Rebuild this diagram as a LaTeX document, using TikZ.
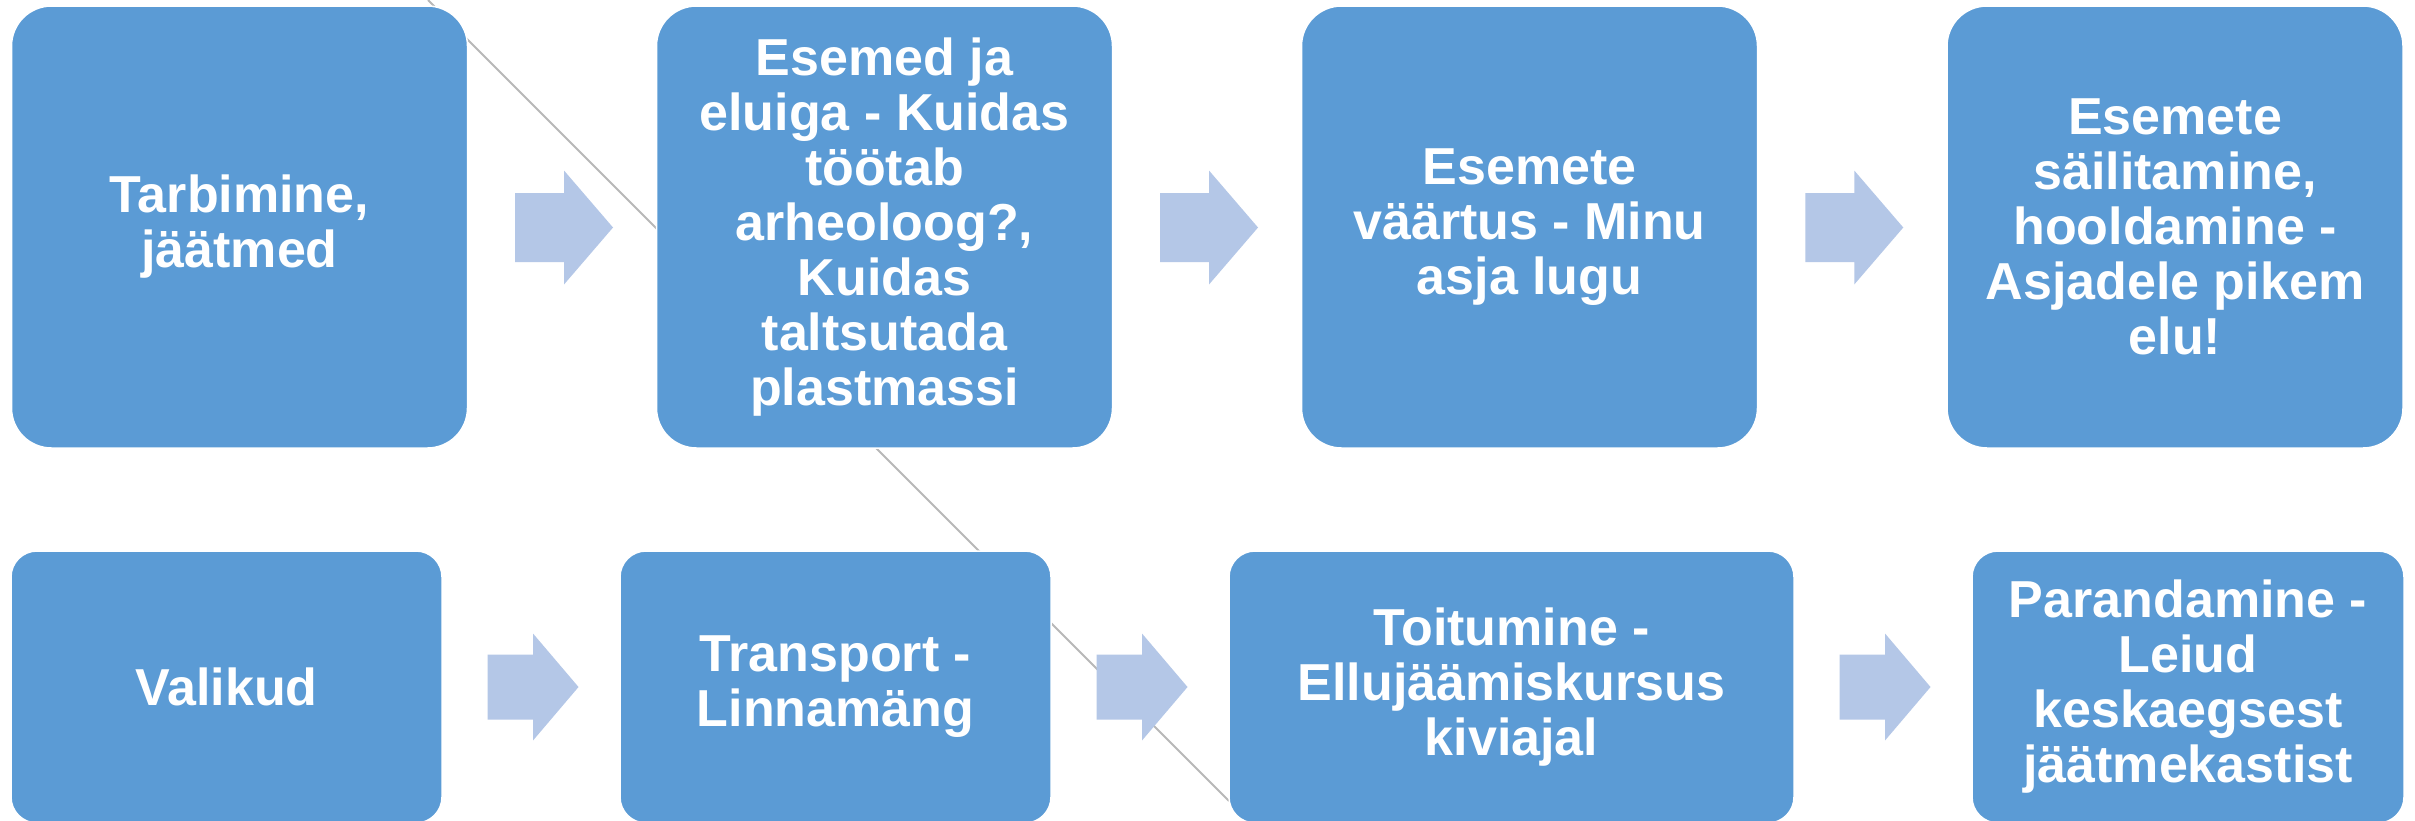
\documentclass[tikz,border=0pt]{standalone}
\usepackage{fontspec}
\setmainfont{Liberation Sans}
\usetikzlibrary{calc}
\definecolor{boxblue}{HTML}{5B9BD5}
\definecolor{arrowblue}{HTML}{B4C7E7}
\definecolor{linegrey}{HTML}{B8B8B8}
\tikzset{
  stepbox/.style={fill=boxblue, draw=white, line width=1.5pt, text=white,
    font=\bfseries\fontsize{52pt}{55pt}\selectfont, align=center,
    inner sep=4pt, outer sep=0pt},
  topbox/.style={stepbox, rounded corners=40pt, minimum width=456pt, minimum height=442pt},
  lowbox/.style={stepbox, rounded corners=26pt, minimum height=272pt},
  arrowfill/.style={fill=arrowblue},
  greyline/.style={draw=linegrey, line width=2pt},
}
\newcommand\flowarr[4]{\fill[arrowfill] ($(#1)+(-#2,-#3)$) -- ($(#1)+(0,-#3)$) -- ($(#1)+(0,-#4)$) -- ($(#1)+(#2,0)$) -- ($(#1)+(0,#4)$) -- ($(#1)+(0,#3)$) -- ($(#1)+(-#2,#3)$) -- cycle;}
\begin{document}
\begin{tikzpicture}[x=1pt,y=-1pt]
\clip (0,0) rectangle (2415,820);
\fill[white] (0,0) rectangle (2415,820);
% grey line behind everything
\coordinate (lineA) at (428,0);
\coordinate (lineB) at (1229,801);
\draw[greyline] (lineA) -- (lineB);
% top row
\node[topbox] (t1) at (239.5,227) {Tarbimine,\\jäätmed};
\node[topbox] (t2) at (884.5,227) {Esemed ja\\eluiga - Kuidas\\töötab\\arheoloog?,\\Kuidas\\taltsutada\\plastmassi};
\node[topbox] (t3) at (1529.5,227) {Esemete\\väärtus - Minu\\asja lugu};
\node[topbox] (t4) at (2175,227) {Esemete\\säilitamine,\\hooldamine -\\Asjadele pikem\\elu!};
% bottom row
\node[lowbox, minimum width=431pt] (u1) at (226.5,687) {Valikud};
\node[lowbox, minimum width=431pt] (u2) at (835.5,687) {Transport -\\Linnamäng};
\node[lowbox, minimum width=565pt] (u3) at (1511.5,687) {Toitumine -\\Ellujäämiskursus\\kiviajal};
\node[lowbox, minimum width=432pt] (u4) at (2188,687) {Parandamine -\\Leiud\\keskaegsest\\jäätmekastist};
% arrows
\coordinate (a1) at ($(t1.east)!0.5!(t2.west)+(2,0.5)$);
\coordinate (a2) at ($(t2.east)!0.5!(t3.west)+(2,0.5)$);
\coordinate (a3) at ($(t3.east)!0.5!(t4.west)+(2,0.5)$);
\coordinate (b1) at ($(u1.east)!0.5!(u2.west)+(2,0)$);
\coordinate (b2) at ($(u2.east)!0.5!(u3.west)+(2,0)$);
\coordinate (b3) at ($(u3.east)!0.5!(u4.west)+(2,0)$);
\flowarr{a1}{49}{34.5}{57}
\flowarr{a2}{49}{34.5}{57}
\flowarr{a3}{49}{34.5}{57}
\flowarr{b1}{45.5}{32.5}{53.5}
\flowarr{b2}{45.5}{32.5}{53.5}
\flowarr{b3}{45.5}{32.5}{53.5}
\end{tikzpicture}
\end{document}
